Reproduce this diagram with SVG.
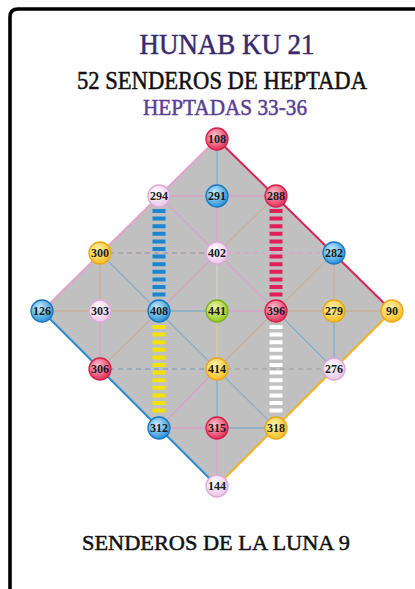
<svg xmlns="http://www.w3.org/2000/svg" width="415" height="589" viewBox="0 0 415 589">
<style>
.t{font-family:"Liberation Serif","DejaVu Serif",serif;text-anchor:middle;stroke-width:0.5}
.n{font-family:"Liberation Serif","DejaVu Serif",serif;font-weight:bold;font-size:12px;fill:#1a1a1a;text-anchor:middle}
.thin{stroke-width:1.3;fill:none}
.pk{stroke:#d9a3c4}
.tn{stroke:#c9ae9c}
.bl{stroke:#86aec8}
.lt{stroke:#d2d2cc}
.ye{stroke:#d8cc98}
.dash{stroke-dasharray:5 4;stroke-width:1.3}
.thick{stroke-width:13;stroke-dasharray:4 3.6}
</style>
<defs>
<radialGradient id="gR" cx="40%" cy="35%" r="65%"><stop offset="0" stop-color="#fbc2cf"/><stop offset="1" stop-color="#e4305a"/></radialGradient>
<radialGradient id="gB" cx="40%" cy="35%" r="65%"><stop offset="0" stop-color="#c8ecff"/><stop offset="1" stop-color="#2a92d6"/></radialGradient>
<radialGradient id="gP" cx="40%" cy="35%" r="65%"><stop offset="0" stop-color="#ffffff"/><stop offset="1" stop-color="#ebc6e8"/></radialGradient>
<radialGradient id="gY" cx="40%" cy="35%" r="65%"><stop offset="0" stop-color="#fff4b0"/><stop offset="1" stop-color="#f7bf22"/></radialGradient>
<radialGradient id="gG" cx="40%" cy="35%" r="65%"><stop offset="0" stop-color="#eef8a0"/><stop offset="1" stop-color="#98c626"/></radialGradient>
</defs>
<rect width="415" height="589" fill="#ffffff"/>
<path d="M10,589 V17 Q10,9 18,9 H415" fill="none" stroke="#000" stroke-width="3.6"/>
<g id="titles">
<text class="t" x="227" y="54" font-size="29" fill="#3a2a6b" stroke="#3a2a6b" textLength="175" lengthAdjust="spacingAndGlyphs">HUNAB KU 21</text>
<text class="t" x="222" y="89" font-size="25" fill="#111" stroke="#111" stroke-width="0.15" textLength="290" lengthAdjust="spacingAndGlyphs">52 SENDEROS DE HEPTADA</text>
<text class="t" x="225" y="115" font-size="24" fill="#5a3f94" stroke="#5a3f94" textLength="164" lengthAdjust="spacingAndGlyphs">HEPTADAS 33-36</text>
<text class="t" x="216" y="550" font-size="22" fill="#111" stroke="#111" stroke-width="0.6" textLength="268" lengthAdjust="spacingAndGlyphs">SENDEROS DE LA LUNA 9</text>
</g>
<polygon id="diamond" points="217,139 392,311 217,486 42,311" fill="#c0c0c0"/>
<g id="connectors">
<line class="thin bl" x1="217" y1="139" x2="217" y2="196"/>
<line class="thin pk" x1="217" y1="196" x2="217" y2="253"/>
<line class="thin lt" x1="217" y1="253" x2="217" y2="311"/>
<line class="thin ye" x1="217" y1="311" x2="217" y2="369"/>
<line class="thin bl" x1="217" y1="369" x2="217" y2="428"/>
<line class="thin pk" x1="217" y1="428" x2="217" y2="486"/>
<line class="thin tn" x1="42" y1="311" x2="159" y2="311"/>
<line class="thin bl" x1="159" y1="311" x2="217" y2="311"/>
<line class="thin pk" x1="217" y1="311" x2="276" y2="311"/>
<line class="thin tn" x1="276" y1="311" x2="392" y2="311"/>
<line class="thin pk" x1="159" y1="196" x2="276" y2="196"/>
<line class="thin pk" x1="159" y1="428" x2="217" y2="428"/>
<line class="thin bl" x1="217" y1="428" x2="276" y2="428"/>
<line class="thin tn" x1="100" y1="253" x2="100" y2="311"/>
<line class="thin pk" x1="100" y1="311" x2="100" y2="369"/>
<line class="thin tn" x1="334" y1="253" x2="334" y2="311"/>
<line class="thin bl" x1="334" y1="311" x2="334" y2="369"/>
<line class="thin pk" x1="159" y1="196" x2="276" y2="311"/>
<line class="thin bl" x1="276" y1="311" x2="334" y2="369"/>
<line class="thin bl" x1="100" y1="253" x2="276" y2="428"/>
<line class="thin tn" x1="100" y1="369" x2="159" y2="311"/>
<line class="thin pk" x1="159" y1="311" x2="217" y2="253"/>
<line class="thin tn" x1="217" y1="253" x2="276" y2="196"/>
<line class="thin pk" x1="159" y1="428" x2="217" y2="369"/>
<line class="thin tn" x1="217" y1="369" x2="334" y2="253"/>
<line class="dash" stroke="#a89ca6" x1="100" y1="253" x2="217" y2="253"/>
<line class="dash" stroke="#d8a6c8" x1="217" y1="253" x2="334" y2="253"/>
<line class="dash" stroke="#8aa4bc" x1="100" y1="369" x2="217" y2="369"/>
<line class="dash" stroke="#a8a8a8" x1="217" y1="369" x2="334" y2="369"/>
<line stroke="#e6a2c8" stroke-width="2" x1="217" y1="139" x2="42" y2="311"/>
<line stroke="#dc2152" stroke-width="2" x1="217" y1="139" x2="392" y2="311"/>
<line stroke="#2a8ccc" stroke-width="2.2" x1="42" y1="311" x2="217" y2="486"/>
<line stroke="#f0b428" stroke-width="2.2" x1="392" y1="311" x2="217" y2="486"/>
<line class="thick" stroke="#1a86d0" x1="159" y1="209" x2="159" y2="300"/>
<line class="thick" stroke="#f2e400" x1="159" y1="325" x2="159" y2="416"/>
<line class="thick" stroke="#e0205a" x1="276" y1="209" x2="276" y2="300"/>
<line class="thick" stroke="#ffffff" x1="276" y1="325" x2="276" y2="416"/>
</g>
<g id="n108"><circle cx="217" cy="139" r="11" fill="url(#gR)" stroke="#d4204c" stroke-width="1.3"/><text class="n" x="217" y="143">108</text></g>
<g id="n294"><circle cx="159" cy="196" r="11" fill="url(#gP)" stroke="#dcaad8" stroke-width="1.3"/><text class="n" x="159" y="200">294</text></g>
<g id="n291"><circle cx="217" cy="196" r="11" fill="url(#gB)" stroke="#1a78c0" stroke-width="1.3"/><text class="n" x="217" y="200">291</text></g>
<g id="n288"><circle cx="276" cy="196" r="11" fill="url(#gR)" stroke="#d4204c" stroke-width="1.3"/><text class="n" x="276" y="200">288</text></g>
<g id="n300"><circle cx="100" cy="253" r="11" fill="url(#gY)" stroke="#e8a818" stroke-width="1.3"/><text class="n" x="100" y="257">300</text></g>
<g id="n402"><circle cx="217" cy="253" r="11" fill="url(#gP)" stroke="#dcaad8" stroke-width="1.3"/><text class="n" x="217" y="257">402</text></g>
<g id="n282"><circle cx="334" cy="253" r="11" fill="url(#gB)" stroke="#1a78c0" stroke-width="1.3"/><text class="n" x="334" y="257">282</text></g>
<g id="n126"><circle cx="42" cy="311" r="11" fill="url(#gB)" stroke="#1a78c0" stroke-width="1.3"/><text class="n" x="42" y="315">126</text></g>
<g id="n303"><circle cx="100" cy="311" r="11" fill="url(#gP)" stroke="#dcaad8" stroke-width="1.3"/><text class="n" x="100" y="315">303</text></g>
<g id="n408"><circle cx="159" cy="311" r="11" fill="url(#gB)" stroke="#1a78c0" stroke-width="1.3"/><text class="n" x="159" y="315">408</text></g>
<g id="n441"><circle cx="217" cy="311" r="11" fill="url(#gG)" stroke="#80b020" stroke-width="1.3"/><text class="n" x="217" y="315">441</text></g>
<g id="n396"><circle cx="276" cy="311" r="11" fill="url(#gR)" stroke="#d4204c" stroke-width="1.3"/><text class="n" x="276" y="315">396</text></g>
<g id="n279"><circle cx="334" cy="311" r="11" fill="url(#gY)" stroke="#e8a818" stroke-width="1.3"/><text class="n" x="334" y="315">279</text></g>
<g id="n90"><circle cx="392" cy="311" r="11" fill="url(#gY)" stroke="#e8a818" stroke-width="1.3"/><text class="n" x="392" y="315">90</text></g>
<g id="n306"><circle cx="100" cy="369" r="11" fill="url(#gR)" stroke="#d4204c" stroke-width="1.3"/><text class="n" x="100" y="373">306</text></g>
<g id="n414"><circle cx="217" cy="369" r="11" fill="url(#gY)" stroke="#e8a818" stroke-width="1.3"/><text class="n" x="217" y="373">414</text></g>
<g id="n276"><circle cx="334" cy="369" r="11" fill="url(#gP)" stroke="#dcaad8" stroke-width="1.3"/><text class="n" x="334" y="373">276</text></g>
<g id="n312"><circle cx="159" cy="428" r="11" fill="url(#gB)" stroke="#1a78c0" stroke-width="1.3"/><text class="n" x="159" y="432">312</text></g>
<g id="n315"><circle cx="217" cy="428" r="11" fill="url(#gR)" stroke="#d4204c" stroke-width="1.3"/><text class="n" x="217" y="432">315</text></g>
<g id="n318"><circle cx="276" cy="428" r="11" fill="url(#gY)" stroke="#e8a818" stroke-width="1.3"/><text class="n" x="276" y="432">318</text></g>
<g id="n144"><circle cx="217" cy="486" r="11" fill="url(#gP)" stroke="#dcaad8" stroke-width="1.3"/><text class="n" x="217" y="490">144</text></g>
</svg>
